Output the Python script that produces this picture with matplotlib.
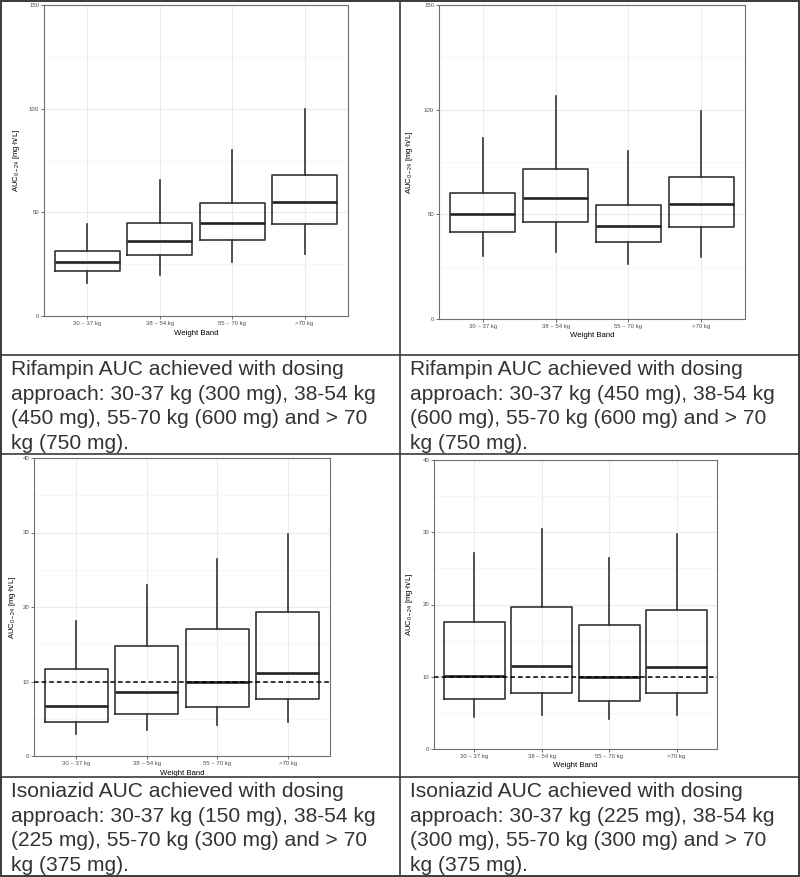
import matplotlib
matplotlib.use("Agg")
import matplotlib.pyplot as plt
from matplotlib.lines import Line2D
from matplotlib.patches import Rectangle

plt.rcParams["font.family"] = ["Liberation Sans", "DejaVu Sans"]
plt.rcParams["mathtext.default"] = "regular"

W, H = 800, 877

bands = ["30 ~ 37 kg", "38 ~ 54 kg", "55 ~ 70 kg", ">70 kg"]

# rifampin, first dosing approach (whisker low, Q1, median, Q3, whisker high)
rif1_lo = [16.1, 19.8, 26.2, 29.9]
rif1_q1 = [21.9, 29.3, 36.8, 44.2]
rif1_med = [26.2, 36.2, 44.7, 55.1]
rif1_q3 = [31.4, 44.7, 54.7, 68.0]
rif1_hi = [44.4, 65.6, 80.1, 99.9]

# rifampin, second dosing approach
rif2_lo = [30.1, 32.2, 26.3, 29.8]
rif2_q1 = [41.7, 46.5, 36.8, 44.1]
rif2_med = [50.0, 57.7, 44.6, 54.9]
rif2_q3 = [60.2, 71.5, 54.6, 67.7]
rif2_hi = [86.6, 106.7, 80.4, 99.5]

# isoniazid, first dosing approach
inh1_lo = [2.9, 3.5, 4.1, 4.6]
inh1_q1 = [4.6, 5.7, 6.6, 7.6]
inh1_med = [6.7, 8.6, 10.0, 11.2]
inh1_q3 = [11.7, 14.7, 17.0, 19.3]
inh1_hi = [18.1, 23.0, 26.4, 29.8]

# isoniazid, second dosing approach
inh2_lo = [4.4, 4.7, 4.1, 4.7]
inh2_q1 = [6.9, 7.7, 6.7, 7.7]
inh2_med = [10.1, 11.5, 10.0, 11.3]
inh2_q3 = [17.6, 19.65, 17.1, 19.3]
inh2_hi = [27.1, 30.4, 26.4, 29.8]

inh_target = 10

captions = [
    ["Rifampin AUC achieved with dosing",
     "approach: 30-37 kg (300 mg), 38-54 kg",
     "(450 mg), 55-70 kg (600 mg) and > 70",
     "kg (750 mg)."],
    ["Rifampin AUC achieved with dosing",
     "approach: 30-37 kg (450 mg), 38-54 kg",
     "(600 mg), 55-70 kg (600 mg) and > 70",
     "kg (750 mg)."],
    ["Isoniazid AUC achieved with dosing",
     "approach: 30-37 kg (150 mg), 38-54 kg",
     "(225 mg), 55-70 kg (300 mg) and > 70",
     "kg (375 mg)."],
    ["Isoniazid AUC achieved with dosing",
     "approach: 30-37 kg (225 mg), 38-54 kg",
     "(300 mg), 55-70 kg (300 mg) and > 70",
     "kg (375 mg)."],
]

fig = plt.figure(figsize=(W / 100, H / 100), dpi=100)


def px_axes(left, right, top, bottom):
    return fig.add_axes([left / W, 1 - bottom / H, (right - left) / W, (bottom - top) / H])


def draw_panel(ax, lo, q1, med, q3, hi, ymax, ystep, target=None, ylab_px=22, xlab_pad=6):
    stats = [
        {"whislo": a, "q1": b, "med": c, "q3": d, "whishi": e, "fliers": []}
        for a, b, c, d, e in zip(lo, q1, med, q3, hi)
    ]
    pos = list(range(1, len(bands) + 1))
    ax.bxp(
        stats, positions=pos, widths=0.9, showcaps=False, showfliers=False,
        boxprops=dict(color="#333333", lw=1.2),
        whiskerprops=dict(color="#333333", lw=1.2),
        medianprops=dict(color="#222222", lw=1.9),
        zorder=3,
    )
    if target is not None:
        ax.axhline(target, color="black", lw=1.1, ls=(0, (3, 2)), zorder=4)
    ax.set_xlim(0.4, len(bands) + 0.6)
    ax.set_ylim(0, ymax)
    ax.set_xticks(pos)
    ax.set_xticklabels(bands)
    ax.set_yticks(range(0, ymax + 1, ystep))
    ax.set_yticks([v + ystep / 2 for v in range(0, ymax, ystep)], minor=True)
    ax.grid(which="major", color="#EBEBEB", lw=0.8, zorder=0)
    ax.grid(which="minor", axis="y", color="#F3F3F3", lw=0.5, zorder=0)
    ax.set_axisbelow(True)
    ax.tick_params(which="major", length=2, width=0.5, color="#333333",
                   labelsize=4.3, labelcolor="#4D4D4D", pad=1.5)
    ax.tick_params(which="minor", length=0)
    for sp in ax.spines.values():
        sp.set_color("#6E6E6E")
        sp.set_linewidth(0.8)
    ax.set_xlabel("Weight Band", fontsize=5.6, labelpad=xlab_pad)
    ax.set_ylabel("AUC$_{0-24}$ [mg·h/L]", fontsize=5.6)
    bb = ax.get_position()
    ax.yaxis.set_label_coords(-ylab_px / (bb.width * W), 0.5)


ax1 = px_axes(44, 348, 5, 316)
draw_panel(ax1, rif1_lo, rif1_q1, rif1_med, rif1_q3, rif1_hi, 150, 50, ylab_px=22, xlab_pad=3)

ax2 = px_axes(439, 745, 5, 319)
draw_panel(ax2, rif2_lo, rif2_q1, rif2_med, rif2_q3, rif2_hi, 150, 50, ylab_px=24, xlab_pad=2)

ax3 = px_axes(34, 330, 458, 756)
draw_panel(ax3, inh1_lo, inh1_q1, inh1_med, inh1_q3, inh1_hi, 40, 10, target=inh_target,
           ylab_px=16, xlab_pad=3)

ax4 = px_axes(434, 717, 460, 749)
draw_panel(ax4, inh2_lo, inh2_q1, inh2_med, inh2_q3, inh2_hi, 40, 10, target=inh_target,
           ylab_px=19, xlab_pad=2)

# captions, one line at a time (baseline positions in pixels)
cap_origin = [(11, 375), (410, 375), (11, 797), (410, 797)]
for lines, (x0, y0) in zip(captions, cap_origin):
    for i, line in enumerate(lines):
        fig.text(x0 / W, 1 - (y0 + i * 24.6) / H, line, fontsize=15.1,
                 color="#333333", va="baseline", ha="left")

# table rules
rule = dict(color="#3A3A3A", lw=1.2, transform=fig.transFigure)
fig.add_artist(Line2D([400 / W, 400 / W], [0, 1], **rule))
for y in (354.5, 453.5, 777.3):
    fig.add_artist(Line2D([0, 1], [1 - y / H, 1 - y / H], **rule))
fig.add_artist(Rectangle((0.6 / W, 0.6 / H), 1 - 1.2 / W, 1 - 1.2 / H, fill=False,
                         ec="#3A3A3A", lw=1.4, transform=fig.transFigure))

fig.savefig("out.png", dpi=100)
